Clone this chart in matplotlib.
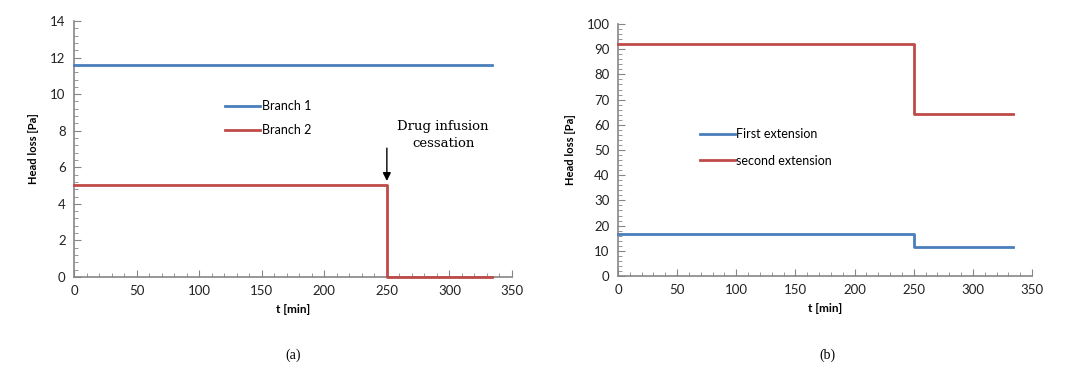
import matplotlib
matplotlib.use('Agg')
import matplotlib.pyplot as plt
from matplotlib.ticker import MultipleLocator, AutoMinorLocator

# panel (a)
t_a = [0, 250, 250, 334]
branch1 = [11.6, 11.6, 11.6, 11.6]
branch2 = [5.05, 5.05, 0.0, 0.0]

# panel (b)
t_b = [0, 250, 250, 334]
first_ext = [16.5, 16.5, 11.6, 11.6]
second_ext = [92.2, 92.2, 64.2, 64.2]

blue = '#4A7EBB'
red = '#BE4B48'
plt.rcParams['font.family'] = ['Lato', 'DejaVu Sans']

fig = plt.figure(figsize=(10.83, 3.75), dpi=100)
ax1 = fig.add_axes([74 / 1083, 1 - 277 / 375, 438 / 1083, 256 / 375])
ax2 = fig.add_axes([618 / 1083, 1 - 276 / 375, 414 / 1083, 252 / 375])


def style(ax, ymax, ystep):
    ax.set_xlim(0, 350)
    ax.set_ylim(0, ymax)
    ax.xaxis.set_major_locator(MultipleLocator(50))
    ax.yaxis.set_major_locator(MultipleLocator(ystep))
    ax.xaxis.set_minor_locator(AutoMinorLocator(5))
    ax.yaxis.set_minor_locator(AutoMinorLocator(5))
    for s in ['top', 'right']:
        ax.spines[s].set_visible(False)
    for s in ['left', 'bottom']:
        ax.spines[s].set_color('#868686')
        ax.spines[s].set_linewidth(1.2)
    ax.tick_params(which='major', direction='in', length=5, color='#868686',
                   labelsize=9.5, labelcolor='#222222', pad=6)
    ax.tick_params(which='minor', direction='in', length=3, color='#868686')
    ax.set_xlabel('t [min]', fontsize=8.5, fontweight='bold', labelpad=5)
    ax.set_ylabel('Head loss [Pa]', fontsize=8, fontweight='bold', labelpad=8)


ax1.plot(t_a, branch1, color=blue, lw=2, label='Branch 1', zorder=4, clip_on=False)
ax1.plot(t_a, branch2, color=red, lw=2, label='Branch 2', zorder=4, clip_on=False)
style(ax1, 14, 2)
ax1.legend(loc='upper left', bbox_to_anchor=(0.32, 0.735), frameon=False,
           fontsize=9, handlelength=2.8, handletextpad=0.1, labelspacing=0.95)
ax1.annotate('', xy=(250, 5.1), xytext=(250, 7.2),
             arrowprops=dict(arrowstyle='-|>', color='black', lw=1, mutation_scale=12))
ax1.text(295, 7.75, 'Drug infusion\ncessation', ha='center', va='center',
         fontsize=9.5, family=['DejaVu Serif'], linespacing=1.4)

ax2.plot(t_b, first_ext, color=blue, lw=2, label='First extension', zorder=4, clip_on=False)
ax2.plot(t_b, second_ext, color=red, lw=2, label='second extension', zorder=4, clip_on=False)
style(ax2, 100, 10)
ax2.legend(loc='upper left', bbox_to_anchor=(0.17, 0.63), frameon=False,
           fontsize=9, handlelength=2.8, handletextpad=0.1, labelspacing=1.15)

fig.text(293 / 1083, 1 - 355 / 375, '(a)', ha='center', va='center',
         fontsize=10, family=['Liberation Serif'])
fig.text(827 / 1083, 1 - 355 / 375, '(b)', ha='center', va='center',
         fontsize=10, family=['Liberation Serif'])

fig.savefig('out.png', dpi=100)
